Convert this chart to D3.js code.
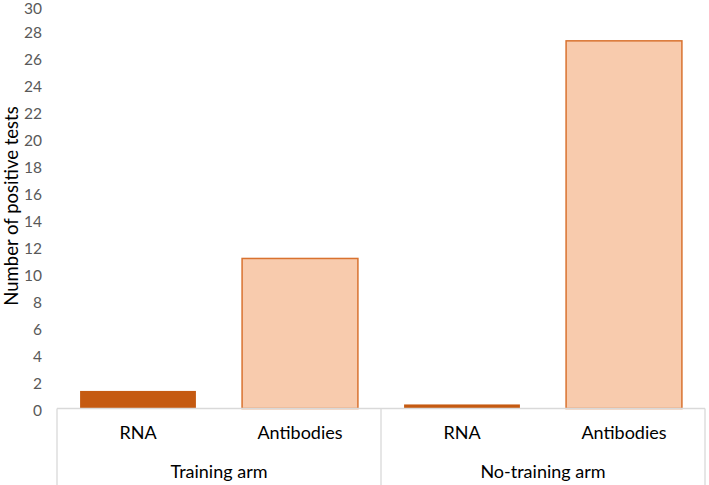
<!DOCTYPE html>
<html><head><meta charset="utf-8">
<script src="https://cdn.jsdelivr.net/npm/d3@7"></script>
<style>body{margin:0;background:#fff}svg{display:block}</style>
</head><body>
<script>
const groups = ["Training arm", "No-training arm"];
const tests = ["RNA", "Antibodies"];
const rnaValues = [1.3, 0.3];
const antibodyValues = [11.1, 27.2];
const yTicks = [0,2,4,6,8,10,12,14,16,18,20,22,24,26,28,30];

const W = 709, H = 485;
const plotLeft = 57, plotRight = 705, plotBase = 408.5, plotTop = 3;
const svg = d3.select("body").append("svg").attr("width", W).attr("height", H);

const data = [];
groups.forEach((g, gi) => {
  data.push({key: g + "|RNA", group: g, test: "RNA", value: rnaValues[gi]});
  data.push({key: g + "|Antibodies", group: g, test: "Antibodies", value: antibodyValues[gi]});
});

const x = d3.scaleBand().domain(data.map(d => d.key)).range([plotLeft, plotRight]).paddingInner(0.285).paddingOuter(0.1425);
const xg = d3.scaleBand().domain(groups).range([plotLeft, plotRight]);
const y = d3.scaleLinear().domain([0, 30]).range([plotBase, plotTop]);

// y tick labels
svg.append("g").selectAll("text").data(yTicks).join("text")
  .attr("x", 42).attr("y", d => y(d)).attr("dy", "0.35em")
  .attr("text-anchor", "end").attr("font-family", "Lato, 'Open Sans', sans-serif")
  .attr("font-size", 15.5).attr("fill", "#595959")
  .attr("transform", d => `translate(0,${d === 30 ? 6 : 2.5})`)
  .text(d => d);

// y title
svg.append("text").attr("transform", `translate(17.5,206) rotate(-90)`)
  .attr("text-anchor", "middle").attr("font-family", "Lato, 'Open Sans', sans-serif")
  .attr("font-size", 18.5).attr("fill", "#000").text("Number of positive tests");

// bars
svg.append("g").selectAll("rect").data(data).join("rect")
  .attr("x", d => x(d.key)).attr("width", x.bandwidth())
  .attr("y", d => y(d.value)).attr("height", d => plotBase - y(d.value))
  .attr("fill", d => d.test === "RNA" ? "#c55a11" : "#f8cbad")
  .attr("stroke", d => d.test === "RNA" ? "none" : "#d9722f")
  .attr("stroke-width", 1.5);

// category axis lines
const axis = svg.append("g").attr("stroke", "#d9d9d9").attr("stroke-width", 1.3).attr("fill", "none");
axis.append("line").attr("x1", plotLeft).attr("x2", plotRight).attr("y1", plotBase).attr("y2", plotBase);
const bounds = [plotLeft].concat(groups.map(g => xg(g) + xg.bandwidth()));
axis.selectAll("line.v").data(bounds).join("line").attr("class", "v")
  .attr("x1", d => d).attr("x2", d => d).attr("y1", plotBase).attr("y2", H);

// sub-category labels
svg.append("g").selectAll("text").data(data).join("text")
  .attr("x", d => x(d.key) + x.bandwidth() / 2).attr("y", 433).attr("dy", "0.35em")
  .attr("text-anchor", "middle").attr("font-family", "Lato, 'Open Sans', sans-serif")
  .attr("font-size", 18).attr("fill", "#000").text(d => d.test);

// group labels
svg.append("g").selectAll("text").data(groups).join("text")
  .attr("x", d => xg(d) + xg.bandwidth() / 2).attr("y", 471.5).attr("dy", "0.35em")
  .attr("text-anchor", "middle").attr("font-family", "Lato, 'Open Sans', sans-serif")
  .attr("font-size", 18).attr("fill", "#000").text(d => d);
</script>
</body></html>
